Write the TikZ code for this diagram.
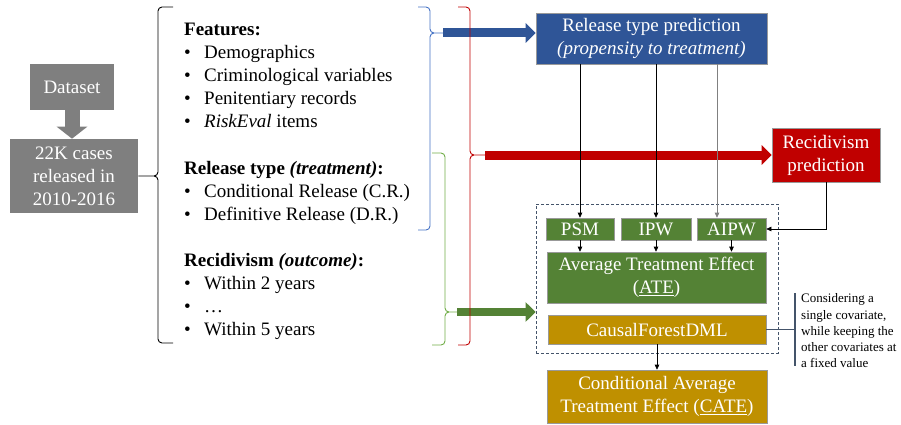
\documentclass[tikz,border=0pt]{standalone}
\usepackage{fontspec}
\setmainfont{Liberation Serif}
\usetikzlibrary{arrows.meta}

\definecolor{dsgray}{HTML}{7F7F7F}
\definecolor{rtblue}{HTML}{2F5597}
\definecolor{rcred}{HTML}{C00000}
\definecolor{efgreen}{HTML}{548235}
\definecolor{cfgold}{HTML}{BF9000}
\definecolor{bblue}{HTML}{4472C4}
\definecolor{bgreen}{HTML}{70AD47}
\definecolor{slate}{HTML}{44546A}

\newcommand{\itm}[1]{\makebox[20pt][l]{\textbullet}#1}

\begin{document}
\begin{tikzpicture}[x=1pt,y=-1pt,
    box/.style={draw=gray!80, line width=0.6pt, text=white, align=center, inner sep=0pt, font={\fontsize{19}{23}\selectfont}},
    lst/.style={anchor=base west, inner sep=0pt, font={\fontsize{19}{23}\selectfont}},
    brc/.style={rounded corners=4pt, line width=0.9pt},
    conn/.style={line width=0.6pt, -{Triangle[length=5pt,width=4.5pt]}},
    fat/.style={line width=9pt, -{Triangle[length=10pt,width=19pt]}}]
\useasboundingbox (0,0) rectangle (901,425);

% data side
\node[box, fill=dsgray, draw=none, minimum width=84pt, minimum height=46pt] (dataset) at (72,87) {Dataset};
\node[box, fill=dsgray, draw=none, minimum width=128pt, minimum height=74pt] (cases) at (74,176) {22K cases\\released in\\2010-2016};
\draw[dsgray, line width=15pt, -{Triangle[length=12pt,width=30pt]}] (dataset.south) -- (dataset.south |- cases.north);

\foreach \y/\txt in {36/{\textbf{Features:}}, 59/{\itm{Demographics}}, 82/{\itm{Criminological variables}},
    105/{\itm{Penitentiary records}}, 128/{\itm{\textit{RiskEval} items}},
    174/{\textbf{Release type \textit{(treatment)}:}}, 197/{\itm{Conditional Release (C.R.)}},
    220/{\itm{Definitive Release (D.R.)}}, 266/{\textbf{Recidivism \textit{(outcome)}:}},
    289/{\itm{Within 2 years}}, 312/{\itm{\ldots}}, 335/{\itm{Within 5 years}}}
  \node[lst] (ln\y) at (184,\y) {\txt};

% models
\node[draw=slate, line width=0.7pt, dash pattern=on 3pt off 2pt, minimum width=242pt, minimum height=149pt, inner sep=0pt] (frame) at (657,278.5) {};
\node[box, fill=rtblue, minimum width=231pt, minimum height=51pt] (reltype) at (651.5,38.5) {Release type prediction\\\textit{(propensity to treatment)}};
\node[box, fill=rcred, minimum width=108pt, minimum height=54pt] (recid) at (826,155) {Recidivism\\prediction};
\node[box, fill=efgreen, minimum width=68pt, minimum height=22pt] (psm) at (580,229) {PSM};
\node[box, fill=efgreen, minimum width=70pt, minimum height=22pt] (ipw) at (656,229) {IPW};
\node[box, fill=efgreen, minimum width=69pt, minimum height=22pt] (aipw) at (731.5,229) {AIPW};
\node[box, fill=efgreen, minimum width=219pt, minimum height=51pt] (ate) at (656.5,277.5) {Average Treatment Effect\\(\underline{ATE})};
\node[box, fill=cfgold, minimum width=218pt, minimum height=29pt] (cfdml) at (657,329.5) {CausalForestDML};
\node[box, fill=cfgold, minimum width=220pt, minimum height=53pt] (cate) at (657,396.5) {Conditional Average\\Treatment Effect (\underline{CATE})};

% braces and fat arrows
\coordinate (bluetip) at (443,33);
\coordinate (greentip) at (457,312);
\coordinate (redtip) at (485,155);
\draw[fat, rtblue] (bluetip) -- (bluetip -| reltype.west);
\draw[fat, rcred] (redtip) -- (redtip -| recid.west);
\draw[fat, efgreen, line width=8pt] (greentip) -- (greentip -| frame.west);
\draw[brc] (cases.east) -| (158,7) -- (173,7) (cases.east) -| (158,343) -- (173,343);
\draw[brc, bblue] (bluetip) -| (430,7) -- (418,7) (bluetip) -| (430,230) -- (418,230);
\draw[brc, bgreen] (greentip) -| (445,153) -- (432,153) (greentip) -| (445,345) -- (432,345);
\draw[brc, rcred] (redtip) -| (470,7) -- (458,7) (redtip) -| (470,345) -- (458,345);

% thin connectors
\coordinate (a3) at (717,0);
\draw[conn] (reltype.south -| psm.north) -- (psm.north);
\draw[conn] (reltype.south -| ipw.north) -- (ipw.north);
\draw[conn, gray] (reltype.south -| a3) -- (aipw.north -| a3);
\draw[conn] (psm.south) -- (psm.south |- ate.north);
\draw[conn] (ipw.south) -- (ipw.south |- ate.north);
\draw[conn] (aipw.south) -- (aipw.south |- ate.north);
\draw[conn] (recid.south) |- (aipw.east);
\draw[conn] (cfdml.south) -- (cate.north);

% note
\coordinate (bartop) at (795,293);
\coordinate (barbot) at (795,366);
\draw[slate, line width=2pt] (bartop) -- (barbot);
\draw[slate, line width=1.5pt] (cfdml.east) -- (cfdml.east -| bartop);
\node[anchor=west, align=left, inner sep=0pt, font={\fontsize{13}{16.25}\selectfont}] (note) at (801,331) {Considering a\\single covariate,\\while keeping the\\other covariates at\\a fixed value};
\end{tikzpicture}
\end{document}
